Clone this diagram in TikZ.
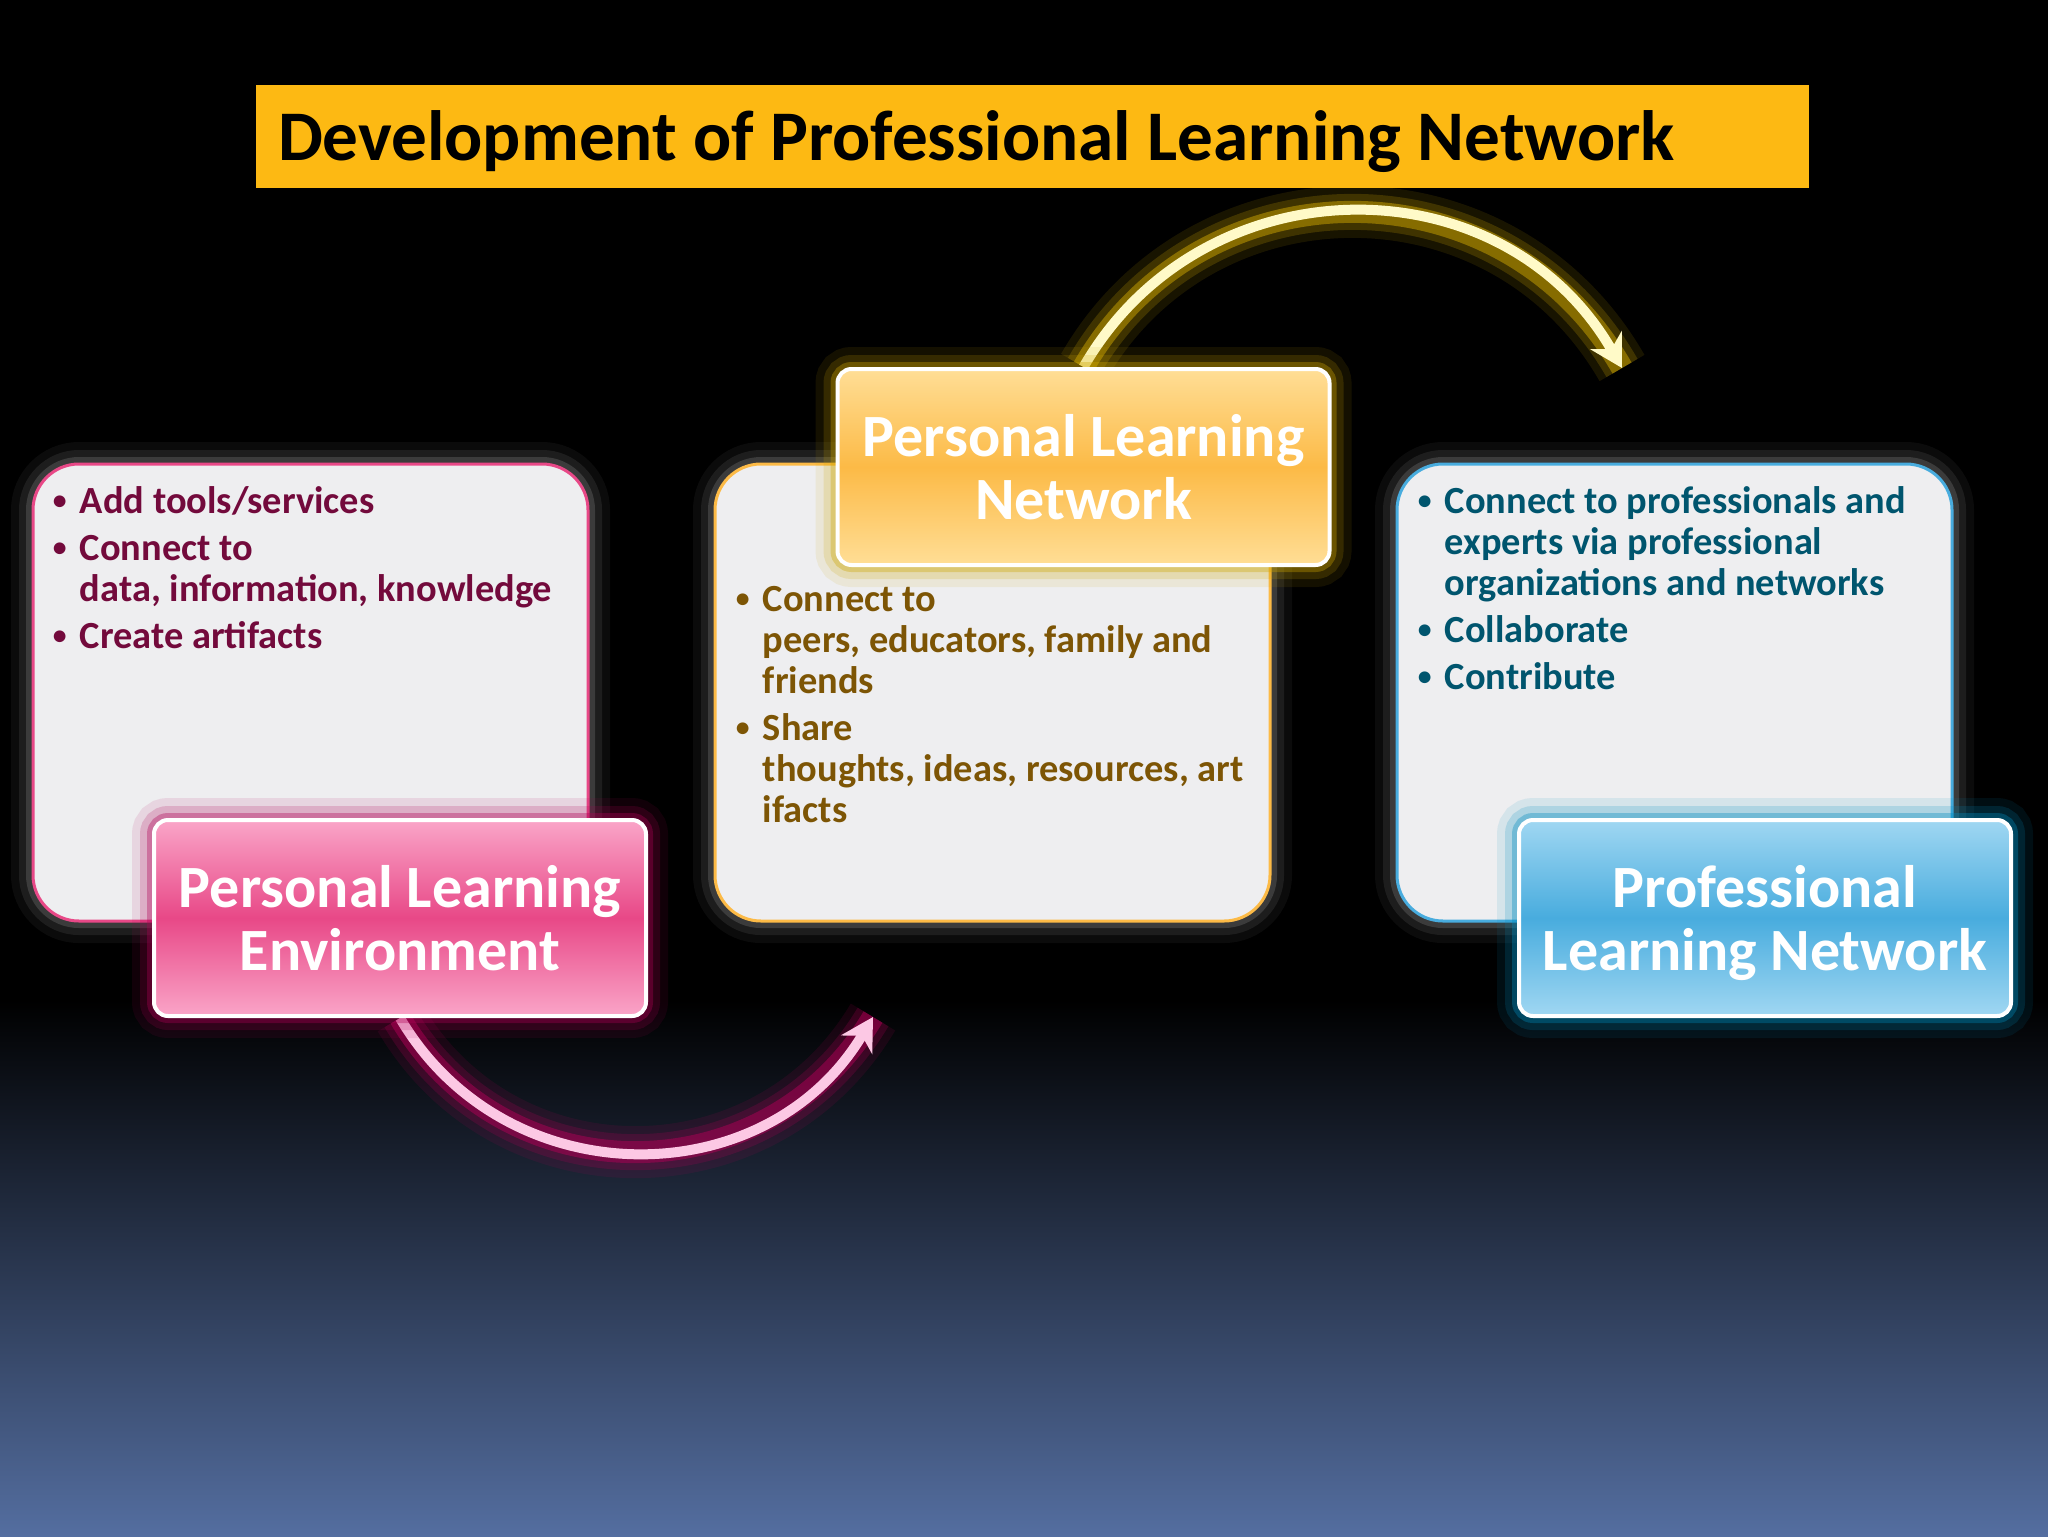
\documentclass[tikz,border=0pt]{standalone}
\usepackage{fontspec}
\setmainfont{Carlito}
\usetikzlibrary{positioning,arrows.meta}
\pgfdeclarelayer{bg}
\pgfdeclarelayer{back}
\pgfsetlayers{bg,back,main}
\definecolor{titlegold}{RGB}{253,185,19}
\definecolor{bgblue}{RGB}{84,110,160}
\definecolor{infogray}{RGB}{238,238,240}
\definecolor{plepink}{RGB}{232,72,135}
\definecolor{plepinklight}{RGB}{250,165,200}
\definecolor{pleglow}{RGB}{175,0,85}
\definecolor{plecore}{RGB}{252,200,228}
\definecolor{pletext}{RGB}{115,10,60}
\definecolor{plnorange}{RGB}{252,186,70}
\definecolor{plnorangelight}{RGB}{255,222,150}
\definecolor{plnglow}{RGB}{205,165,0}
\definecolor{plncore}{RGB}{255,250,200}
\definecolor{plntext}{RGB}{125,85,5}
\definecolor{profblue}{RGB}{72,172,222}
\definecolor{profbluelight}{RGB}{160,215,242}
\definecolor{profglow}{RGB}{0,140,190}
\definecolor{proftext}{RGB}{0,85,110}
\newcommand{\dotmark}{\raisebox{0.1em}{\scalebox{0.72}{\textbullet}}}
\tikzset{%
  glow/.style={
    preaction={draw=#1, draw opacity=.10, line width=22pt},
    preaction={draw=#1, draw opacity=.18, line width=14pt},
    preaction={draw=#1, draw opacity=.35, line width=7pt}
  },
  infobox/.style={
    rectangle,
    rounded corners=23pt,
    fill=infogray,
    draw=#1,
    line width=1.5pt,
    minimum width=277.5pt,
    minimum height=228.5pt,
    glow=white!45!black
  },
  tagbox/.style={
    rectangle,
    rounded corners=7pt,
    draw=white,
    line width=2pt,
    minimum width=246pt,
    minimum height=98pt,
    align=center,
    text=white,
    font=\fontsize{30}{31.5}\selectfont\bfseries
  },
  bullets/.style={
    inner sep=0pt,
    anchor=north west,
    text=#1,
    font=\fontsize{19.2}{20.5}\selectfont\bfseries
  },
  headbar/.style={
    fill=titlegold,
    minimum width=776.5pt,
    minimum height=51.5pt,
    inner sep=0pt
  },
  headtext/.style={
    anchor=base west,
    inner sep=0pt,
    font=\fontsize{35.6}{40}\selectfont\bfseries
  },
}

\begin{document}
\begin{tikzpicture}[x=0.5pt, y=-0.5pt]

\begin{pgfonlayer}{bg}
\fill[black] (0,0) rectangle (2048,1536);
\shade[top color=black, bottom color=bgblue] (0,1000) rectangle (2048,1536);
\end{pgfonlayer}

% title
\node[headbar] (headbar) at (1032.5,136.5) {};
\node[headtext] (title) at ([xshift=11pt, yshift=-11.75pt]headbar.west)
  {Development of Professional Learning Network};

% content boxes
\node[infobox=plepink] (pleinfo) at (310.5,692.5) {};
\node[infobox=plnorange, right=62pt of pleinfo] (plninfo) {};
\node[infobox=profblue, right=62pt of plninfo] (profinfo) {};

\node[bullets=pletext] (pletxt) at ([xshift=10.5pt, yshift=-11pt]pleinfo.north west)
  {\begin{tabular}{@{}p{13.5pt}@{}l@{}}
  \dotmark & Add tools/services\\[3pt]
  \dotmark & Connect to\\
           & data, information, knowledge\\[3pt]
  \dotmark & Create artifacts
  \end{tabular}};

\node[bullets=plntext] (plntxt) at ([xshift=11pt, yshift=-60pt]plninfo.north west)
  {\begin{tabular}{@{}p{13.5pt}@{}l@{}}
  \dotmark & Connect to\\
           & peers, educators, family and\\
           & friends\\[3pt]
  \dotmark & Share\\
           & thoughts, ideas, resources, art\\
           & ifacts
  \end{tabular}};

\node[bullets=proftext] (proftxt) at ([xshift=11pt, yshift=-11pt]profinfo.north west)
  {\begin{tabular}{@{}p{13.5pt}@{}l@{}}
  \dotmark & Connect to professionals and\\
           & experts via professional\\
           & organizations and networks\\[3pt]
  \dotmark & Collaborate\\[3pt]
  \dotmark & Contribute
  \end{tabular}};

% stage labels
\node[tagbox, glow=pleglow, top color=plepinklight, bottom color=plepinklight,
  middle color=plepink] (pletag) at (400,918) {Personal Learning\\Environment};
\node[tagbox, glow=plnglow, top color=plnorangelight, bottom color=plnorangelight,
  middle color=plnorange] (plntag) at (1083.5,467) {Personal Learning\\Network};
\node[tagbox, glow=profglow, top color=profbluelight, bottom color=profbluelight,
  middle color=profblue] (proftag) at (1765,918) {Professional\\\smash{Learning Network}};

\coordinate (pleend) at (873,1017);
\coordinate (plnend) at (1622,368);

% arrows
\begin{pgfonlayer}{back}
\foreach \w/\o in {26/.12, 18/.22, 11/.5}
  \draw[line width=\w pt, draw=pleglow, draw opacity=\o]
    (pletag.south) .. controls (505,1197) and (766,1197) .. (pleend);
\draw[line width=5pt, draw=plecore, -{Stealth[length=16pt, width=18pt]}]
  (pletag.south) .. controls (505,1197) and (766,1197) .. (pleend);

\foreach \w/\o in {26/.12, 18/.22, 11/.5}
  \draw[line width=\w pt, draw=plnglow, draw opacity=\o]
    (plntag.north) .. controls (1202,161) and (1502,159) .. (plnend);
\draw[line width=5pt, draw=plncore, -{Stealth[length=16pt, width=18pt]}]
  (plntag.north) .. controls (1202,161) and (1502,159) .. (plnend);
\end{pgfonlayer}

\end{tikzpicture}
\end{document}
